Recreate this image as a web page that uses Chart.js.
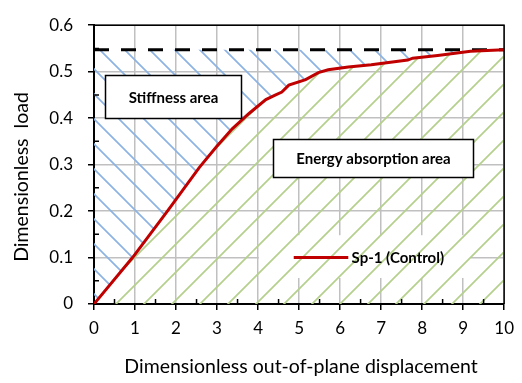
<!DOCTYPE html>
<html>
<head>
<meta charset="utf-8">
<script src="https://cdn.jsdelivr.net/npm/chart.js@4"></script>
<style>
  html, body { margin: 0; padding: 0; background: #fff; }
  #wrap { width: 522px; height: 383px; }
</style>
</head>
<body>
<div id="wrap"><canvas id="chart" width="522" height="383"></canvas></div>
<script>
// curve
const displacement = [0, 0.94, 1.79, 2.57, 2.98, 3.37, 3.78, 4.19, 4.43, 4.58, 4.75, 5.16, 5.47, 5.71, 6.2, 6.76, 7.65, 7.77, 8.38, 9.18, 10];
const load = [0, 0.1, 0.2, 0.294, 0.338, 0.377, 0.41, 0.44, 0.45, 0.456, 0.471, 0.483, 0.498, 0.504, 0.51, 0.515, 0.525, 0.529, 0.535, 0.544, 0.547];
const peakX = [0, 10];
const peakY = [0.547, 0.547];
const seriesName = 'Sp-1 (Control)';
const xTitle = 'Dimensionless out-of-plane displacement';
const yTitle = 'Dimensionless  load';

const FONT = 'Lato';

function hatch(color, size, dir) {
    const c = document.createElement('canvas');
    c.width = c.height = size;
    const g = c.getContext('2d');
    g.strokeStyle = color;
    g.lineWidth = 1.7;
    g.beginPath();
    if (dir === '/') {
        g.moveTo(-2, size + 2); g.lineTo(size + 2, -2);
        g.moveTo(-2, 2); g.lineTo(2, -2);
        g.moveTo(size - 2, size + 2); g.lineTo(size + 2, size - 2);
    } else {
        g.moveTo(-2, -2); g.lineTo(size + 2, size + 2);
        g.moveTo(size - 2, -2); g.lineTo(size + 2, 2);
        g.moveTo(-2, size - 2); g.lineTo(2, size + 2);
    }
    g.stroke();
    return g.createPattern(c, 'repeat');
}

const greenHatch = hatch('#b5d08c', 28, '/');
const blueHatch = hatch('#8db3e2', 25, '\\');

const overlay = {
    id: 'overlay',
    beforeDatasetsDraw(chart) {
        const { ctx, scales: { x, y } } = chart;
        ctx.save();
        ctx.fillStyle = '#fff';
        ctx.fillRect(x.getPixelForValue(4.02), y.getPixelForValue(0.148),
            x.getPixelForValue(9.18) - x.getPixelForValue(4.02),
            y.getPixelForValue(0.056) - y.getPixelForValue(0.148));
        ctx.restore();
    },
    afterDatasetsDraw(chart) {
        const { ctx, scales: { x, y } } = chart;
        ctx.save();
        const box = (x0, y0, x1, y1, text) => {
            const l = Math.round(x.getPixelForValue(x0)) + 0.5, t = Math.round(y.getPixelForValue(y0)) + 0.5;
            const r = Math.round(x.getPixelForValue(x1)) + 0.5, b = Math.round(y.getPixelForValue(y1)) + 0.5;
            ctx.fillStyle = '#fff';
            ctx.fillRect(l, t, r - l, b - t);
            ctx.strokeStyle = '#000';
            ctx.lineWidth = 1.5;
            ctx.strokeRect(l, t, r - l, b - t);
            ctx.fillStyle = '#000';
            ctx.font = 'bold 15px ' + FONT;
            ctx.textAlign = 'center';
            ctx.textBaseline = 'middle';
            ctx.fillText(text, (l + r) / 2, (t + b) / 2 + 1);
        };
        box(0.27, 0.492, 3.58, 0.40, 'Stiffness area');
        box(4.36, 0.356, 9.23, 0.273, 'Energy absorption area');

        // legend entry
        const ly = y.getPixelForValue(0.1);
        ctx.strokeStyle = '#c00000';
        ctx.lineWidth = 3;
        ctx.beginPath();
        ctx.moveTo(x.getPixelForValue(4.87), ly);
        ctx.lineTo(x.getPixelForValue(6.2), ly);
        ctx.stroke();
        ctx.fillStyle = '#000';
        ctx.font = 'bold 15px ' + FONT;
        ctx.textAlign = 'left';
        ctx.textBaseline = 'middle';
        ctx.fillText(seriesName, x.getPixelForValue(6.28), ly + 1);
        ctx.restore();
    },
    afterDraw(chart) {
        const { ctx, chartArea: a, scales: { x, y } } = chart;
        ctx.save();
        ctx.strokeStyle = '#000';
        ctx.lineWidth = 1.5;
        ctx.beginPath();
        ctx.moveTo(a.left, a.top); ctx.lineTo(a.right, a.top); ctx.lineTo(a.right, a.bottom);
        ctx.stroke();

        // minor ticks, pointing inward
        ctx.lineWidth = 1.5;
        ctx.beginPath();
        for (let v = 0.5; v < 10; v += 1) {
            const px = x.getPixelForValue(v);
            ctx.moveTo(px, a.bottom); ctx.lineTo(px, a.bottom - 5);
        }
        for (let v = 0.05; v < 0.6; v += 0.1) {
            const py = y.getPixelForValue(v);
            ctx.moveTo(a.left, py); ctx.lineTo(a.left + 5, py);
        }
        ctx.stroke();

        ctx.fillStyle = '#000';
        ctx.font = '19.5px ' + FONT;
        ctx.textAlign = 'center';
        ctx.textBaseline = 'middle';
        ctx.fillText(xTitle, 301, 367);
        ctx.translate(22, 177);
        ctx.rotate(-Math.PI / 2);
        ctx.fillText(yTitle, 0, 0);
        ctx.restore();
    }
};

new Chart(document.getElementById('chart'), {
    type: 'line',
    data: {
        datasets: [{
            label: seriesName,
            data: displacement.map((v, i) => ({ x: v, y: load[i] })),
            borderColor: '#c00000',
            borderWidth: 3,
            backgroundColor: greenHatch,
            fill: 'origin',
            pointRadius: 0,
            tension: 0
        }, {
            label: 'peak',
            data: peakX.map((v, i) => ({ x: v, y: peakY[i] })),
            borderColor: '#000',
            borderWidth: 3,
            borderDash: [15, 12],
            backgroundColor: blueHatch,
            fill: '-1',
            pointRadius: 0
        }]
    },
    options: {
        responsive: false,
        animation: false,
        layout: { padding: { top: 16, right: 15, left: 0, bottom: 0 } },
        plugins: { legend: { display: false }, tooltip: { enabled: false } },
        scales: {
            x: {
                type: 'linear',
                min: 0, max: 10,
                afterFit: s => { s.height = 79; },
                ticks: { stepSize: 1, color: '#000', padding: 8, font: { family: FONT, size: 17 } },
                grid: { color: '#c0c0c0', lineWidth: 1.5, tickColor: '#000', tickLength: 6 },
                border: { color: '#000', width: 2 }
            },
            y: {
                min: 0, max: 0.6,
                afterFit: s => { s.width = 94; },
                ticks: {
                    stepSize: 0.1, color: '#000', padding: 15,
                    font: { family: FONT, size: 17 },
                    callback: v => v === 0 ? '0' : v.toFixed(1)
                },
                grid: { color: '#c0c0c0', lineWidth: 1.5, tickColor: '#000', tickLength: 6 },
                border: { color: '#000', width: 2 }
            }
        }
    },
    plugins: [overlay]
});
</script>
</body>
</html>
